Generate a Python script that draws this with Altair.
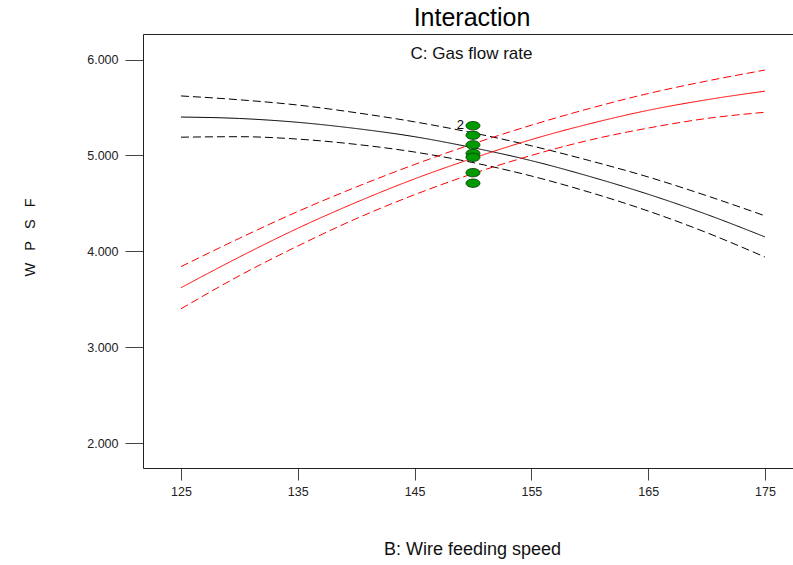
import altair as alt
import pandas as pd

# Wire feeding speed grid for the fitted curves
speed = [125, 130, 135, 140, 145, 150, 155, 160, 165, 170, 175]

# C- (low gas flow rate): fitted mean and confidence limits
low_mean = [5.40, 5.385, 5.345, 5.28, 5.195, 5.08, 4.945, 4.78, 4.595, 4.385, 4.15]
low_upper = [5.62, 5.58, 5.525, 5.445, 5.35, 5.235, 5.10, 4.945, 4.775, 4.58, 4.37]
low_lower = [5.19, 5.195, 5.17, 5.115, 5.035, 4.925, 4.785, 4.615, 4.42, 4.195, 3.94]

# C+ (high gas flow rate): fitted mean and confidence limits
high_mean = [3.62, 3.94, 4.24, 4.51, 4.755, 4.97, 5.165, 5.33, 5.47, 5.58, 5.67]
high_upper = [3.84, 4.135, 4.415, 4.67, 4.905, 5.12, 5.315, 5.49, 5.645, 5.775, 5.89]
high_lower = [3.40, 3.745, 4.055, 4.34, 4.59, 4.81, 5.00, 5.16, 5.285, 5.385, 5.45]

# Observed design points (centre runs)
obs_speed = [150, 150, 150, 150, 150, 150, 150]
obs_wpsf = [5.31, 5.21, 5.11, 5.02, 4.98, 4.82, 4.71]

# Replicate count label
rep_speed = [150]
rep_wpsf = [5.31]
rep_text = ["2"]

rows = []
for level, band, vals in [
    ("C-", "mean", low_mean), ("C-", "upper", low_upper), ("C-", "lower", low_lower),
    ("C+", "mean", high_mean), ("C+", "upper", high_upper), ("C+", "lower", high_lower),
]:
    for s, v in zip(speed, vals):
        rows.append({"speed": s, "wpsf": v, "level": level, "band": band,
                     "series": f"{level} {band}"})
curves = pd.DataFrame(rows)
points = pd.DataFrame({"speed": obs_speed, "wpsf": obs_wpsf})
reps = pd.DataFrame({"speed": rep_speed, "wpsf": rep_wpsf, "label": rep_text})

FONT = "Liberation Sans"
GAP = "\u00a0\u00a0\u00a0"
xscale = alt.Scale(domain=[121.75, 177.4], nice=False, zero=False)
yscale = alt.Scale(domain=[1.74, 6.266], nice=False, zero=False)

x_axis = alt.Axis(
    values=[125, 135, 145, 155, 165, 175], format="d", grid=False,
    tickSize=12, tickColor="#444444", domainColor="#222222", labelFont=FONT,
    labelFontSize=12.5, labelColor="#222222", labelPadding=5,
    title="B: Wire feeding speed", titleFont=FONT, titleFontSize=18,
    titleFontWeight="normal", titleColor="#111111", titleX=329, titleY=81,
    titleBaseline="middle", titleAnchor="middle",
)
y_axis = alt.Axis(
    values=[2, 3, 4, 5, 6], format=".3f", grid=False,
    tickSize=18, tickColor="#444444", domainColor="#222222", labelFont=FONT,
    labelFontSize=12.5, labelColor="#222222", labelPadding=7,
    title=GAP.join(["W", "P", "S", "F"]), titleFont=FONT, titleFontSize=14.5,
    titleFontWeight="normal", titleColor="#111111", titleX=-106, titleY=203,
    titleAnchor="middle",
)

lines = alt.Chart(curves).mark_line(strokeWidth=1, interpolate="monotone").encode(
    x=alt.X("speed:Q", scale=xscale, axis=x_axis),
    y=alt.Y("wpsf:Q", scale=yscale, axis=y_axis),
    color=alt.Color("level:N", scale=alt.Scale(domain=["C-", "C+"], range=["#000000", "#ff0000"]),
                    legend=None),
    strokeDash=alt.StrokeDash("band:N", scale=alt.Scale(domain=["mean", "upper", "lower"],
                                                         range=[[1, 0], [8, 4], [8, 4]]),
                              legend=None),
    detail="series:N",
)

# Frame line along the top of the plot
top_frame = alt.Chart(points).mark_point(opacity=0).encode(
    x=alt.X("speed:Q", scale=xscale,
            axis=alt.Axis(orient="top", labels=False, ticks=False, title=None,
                          domainColor="#222222", grid=False)),
    y=alt.Y("wpsf:Q", scale=yscale),
)

ellipse = "M-1,0A1,0.6,0,1,0,1,0A1,0.6,0,1,0,-1,0Z"
dots = alt.Chart(points).mark_point(
    shape=ellipse, size=196, filled=True, fill="#009a00", stroke="#003300",
    strokeWidth=0.8, opacity=1,
).encode(
    x=alt.X("speed:Q", scale=xscale, axis=None),
    y=alt.Y("wpsf:Q", scale=yscale),
)

rep_label = alt.Chart(reps).mark_text(
    align="right", baseline="middle", dx=-9, dy=-1, font=FONT, fontSize=13, color="#000000",
).encode(
    x=alt.X("speed:Q", scale=xscale, axis=None),
    y=alt.Y("wpsf:Q", scale=yscale),
    text="label:N",
)

subtitle = alt.Chart(reps).mark_text(
    align="center", baseline="middle", font=FONT, fontSize=17, color="#111111",
).encode(x=alt.value(328.5), y=alt.value(20), text=alt.value("C: Gas flow rate"))

chart = (
    alt.layer(lines, top_frame, dots, rep_label, subtitle)
    .resolve_axis(x="independent")
    .properties(
        width=650, height=434,
        autosize=alt.AutoSizeParams(type="none"),
        padding={"left": 143, "top": 34, "right": 0, "bottom": 97},
        title=alt.TitleParams("Interaction", font=FONT, fontSize=25, fontWeight="normal",
                              color="#000000", anchor="middle", offset=3, dx=4),
    )
    .configure_view(stroke=None)
    .configure(background="white")
)

chart.save("out.html", embed_options={"renderer": "svg", "actions": False})
